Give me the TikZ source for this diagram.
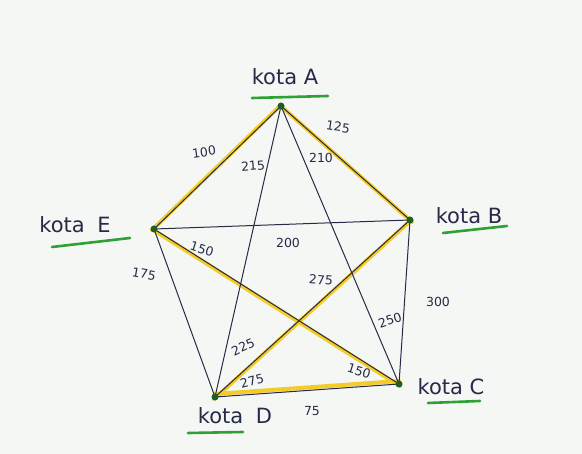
\documentclass[tikz,border=0pt]{standalone}
\usepackage{fontspec}
\setmainfont{DejaVu Sans}
\definecolor{tinta}{RGB}{38,42,72}
\definecolor{kuning}{RGB}{244,204,40}
\definecolor{hijau}{RGB}{46,160,52}
\definecolor{titik}{RGB}{30,95,35}
\definecolor{kertas}{RGB}{245,247,245}
\begin{document}
\begin{tikzpicture}[x=1pt,y=-1pt,
    kota/.style={circle,fill=titik,inner sep=0pt,minimum size=7pt},
    nama/.style={text=tinta,font=\fontsize{21}{23}\selectfont},
    garisbawah/.style={hijau,line width=2.6pt,line cap=round},
    jalan/.style={tinta,line width=1pt},
    pilih/.style={kuning,line width=4pt,line cap=round},
    bobot/.style={text=tinta,font=\fontsize{12.5}{14}\selectfont,inner sep=0pt}]

    % --- kertas ---
    \fill[kertas] (0,0) rectangle (582,454);

    % --- posisi kota ---
    \coordinate (A) at (281,106);
    \coordinate (B) at (410,220);
    \coordinate (C) at (399,384);
    \coordinate (D) at (215,397);
    \coordinate (E) at (154,229);

    % --- rute terpilih (stabilo kuning) ---
    \draw[pilih] ([xshift=-2pt,yshift=-1pt]A) -- ([xshift=-2pt,yshift=-1pt]E);
    \draw[pilih] ([xshift=2pt,yshift=-2pt]A) -- ([xshift=2pt,yshift=-2pt]B);
    \draw[pilih] ([xshift=1pt,yshift=-2pt]E) -- ([xshift=1pt,yshift=-2pt]C);
    \draw[pilih] ([xshift=-1pt,yshift=-2pt]B) -- ([xshift=-1pt,yshift=-2pt]D);
    \draw[pilih] ([yshift=3pt]D) -- ([yshift=3pt]C);

    % --- semua jalan ---
    \draw[jalan] (A) -- (B);
    \draw[jalan] (A) -- (C);
    \draw[jalan] (A) -- (D);
    \draw[jalan] (A) -- (E);
    \draw[jalan] (B) -- (C);
    \draw[jalan] (B) -- (D);
    \draw[jalan] (B) -- (E);
    \draw[jalan] (C) -- (D);
    \draw[jalan] (C) -- (E);
    \draw[jalan] (D) -- (E);

    % --- titik kota ---
    \node[kota] (tA) at (A) {};
    \node[kota] (tB) at (B) {};
    \node[kota] (tC) at (C) {};
    \node[kota] (tD) at (D) {};
    \node[kota] (tE) at (E) {};

    % --- nama kota ---
    \node[nama] (nA) at (285,77) {kota A};
    \node[nama] (nB) at (469,216) {kota B};
    \node[nama] (nC) at (451,387) {kota C};
    \node[nama] (nD) at (235,416) {kota\hspace{0.6em}D};
    \node[nama] (nE) at (75,225) {kota\hspace{0.6em}E};
    \draw[garisbawah] (252,98) -- (328,96);
    \draw[garisbawah] (443,233) -- (507,226);
    \draw[garisbawah] (428,403) -- (480,401);
    \draw[garisbawah] (188,433) -- (243,432);
    \draw[garisbawah] (52,247) -- (130,238);

    % --- jarak ---
    \node[bobot, rotate=8] (bAE) at (204,152) {100};
    \node[bobot, rotate=-8] (bAB) at (338,127) {125};
    \node[bobot, rotate=5] (bAD) at (253,166) {215};
    \node[bobot] (bAC) at (321,158) {210};
    \node[bobot, rotate=-18] (bEC) at (202,249) {150};
    \node[bobot] (bEB) at (288,243) {200};
    \node[bobot, rotate=-10] (bED) at (144,274) {175};
    \node[bobot, rotate=-5] (bBD) at (321,280) {275};
    \node[bobot] (bBC) at (438,302) {300};
    \node[bobot, rotate=18] (bAC2) at (390,320) {250};
    \node[bobot, rotate=25] (bAD2) at (243,347) {225};
    \node[bobot, rotate=15] (bBD2) at (252,381) {275};
    \node[bobot, rotate=-18] (bEC2) at (359,371) {150};
    \node[bobot] (bDC) at (312,411) {75};

\end{tikzpicture}
\end{document}
